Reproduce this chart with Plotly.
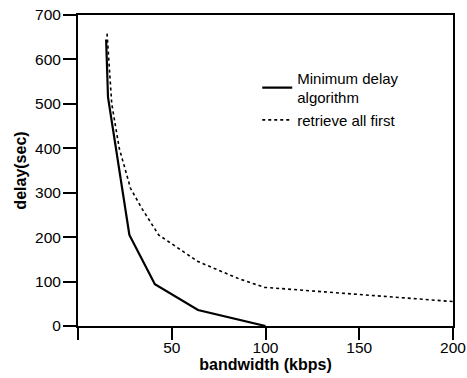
import plotly.graph_objects as go

# Minimum delay algorithm
min_x = [15, 16, 27.4, 41, 64, 100]
min_y = [645, 515, 205, 94, 36, 0]

# retrieve all first
all_x = [15.5, 16.5, 18, 22, 28, 34, 43, 64, 86, 99.5, 150, 200]
all_y = [658, 600, 500, 400, 310, 265, 205, 145, 106, 87, 71, 55]

x_ticks = [0, 50, 100, 150, 200]
x_labels = ["", "50", "100", "150", "200"]
y_ticks = [0, 100, 200, 300, 400, 500, 600, 700]

fig = go.Figure()
fig.add_trace(go.Scatter(x=min_x, y=min_y, mode="lines", name="Minimum delay<br>algorithm",
                         line=dict(color="black", width=2.2)))
fig.add_trace(go.Scatter(x=all_x, y=all_y, mode="lines", name="retrieve all first",
                         line=dict(color="black", width=1.6, dash="dot")))

fam = "Liberation Sans, Arial, sans-serif"
fig.update_layout(
    width=467, height=378,
    margin=dict(l=78, r=14, t=15, b=52),
    plot_bgcolor="white", paper_bgcolor="white",
    font=dict(family=fam, size=15, color="black"),
    showlegend=True,
    legend=dict(x=0.478, y=0.85, xanchor="left", yanchor="top", bgcolor="rgba(0,0,0,0)",
                font=dict(family=fam, size=15, color="black"),
                tracegroupgap=2),
    xaxis=dict(range=[0, 200], tickvals=x_ticks, ticktext=x_labels, ticks="outside", ticklen=12,
               tickwidth=1.5, tickcolor="black", showline=True, linecolor="black", linewidth=2,
               mirror=True, showgrid=False, zeroline=False, automargin=False,
               ticklabelstandoff=-6, tickfont=dict(size=15.5),
               title=dict(text="<b>bandwidth (kbps)</b>", standoff=0, font=dict(size=16))),
    yaxis=dict(range=[0, 700], tickvals=y_ticks, ticks="outside", ticklen=13, tickwidth=1.5,
               tickcolor="black", showline=True, linecolor="black", linewidth=2, mirror=True,
               showgrid=False, zeroline=False, automargin=False,
               ticklabelstandoff=-1, tickfont=dict(size=15.5),
               title=dict(text="<b>delay(sec)</b>", standoff=4, font=dict(size=16))),
)
fig.write_html("out.html", config={"displayModeBar": False},
               post_script="document.body.style.margin='0';")
